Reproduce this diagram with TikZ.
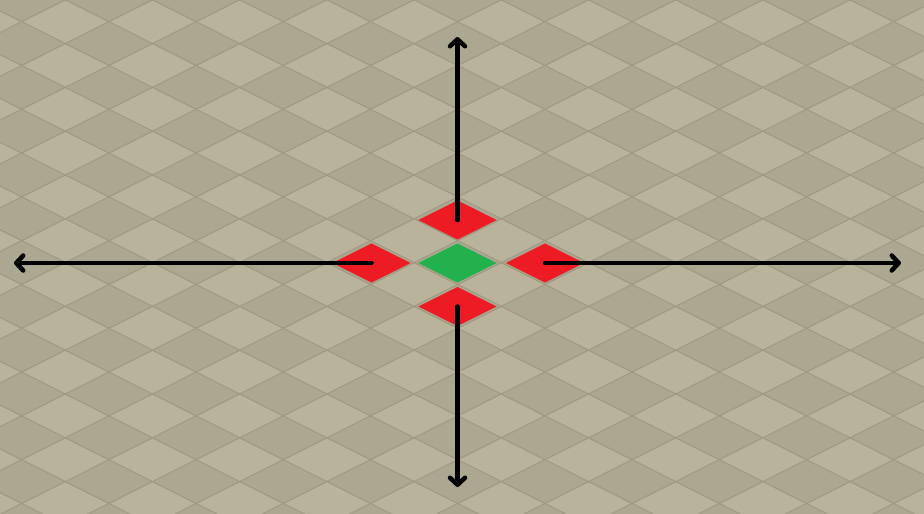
\documentclass[tikz,border=0pt]{standalone}
\usetikzlibrary{arrows.meta,shapes.geometric}

\definecolor{floorlight}{RGB}{185,179,155}
\definecolor{floordark}{RGB}{172,167,144}
\definecolor{grout}{RGB}{158,153,128}
\definecolor{tilered}{RGB}{237,28,36}
\definecolor{tilegreen}{RGB}{34,177,76}

\tikzset{
  tile/.style={diamond, draw=none, inner sep=0pt, minimum width=78.4pt, minimum height=39.4pt},
  move/.style={line width=4.5pt, line cap=round, -{Straight Barb[length=7pt,width=15pt,round]}}
}

\begin{document}
\begin{tikzpicture}[x=1pt,y=-1pt]
\useasboundingbox (0,0) rectangle (924,514);

% floor
\begin{scope}
\clip (0,0) rectangle (924,514);
\fill[floorlight] (0,0) rectangle (924,514);
\foreach \n in {-1,...,23}{
  \pgfmathtruncatemacro{\shift}{mod(\n+3,2)}
  \foreach \i in {-1,...,11}{
    \pgfmathsetmacro{\cx}{21.7+43.6*(2*\i+\shift)}
    \pgfmathsetmacro{\cy}{21.7+21.9*\n}
    \ifodd\n
      \filldraw[fill=floordark, draw=grout, line width=0.8pt] (\cx-43.6,\cy) -- (\cx,\cy-21.9) -- (\cx+43.6,\cy) -- (\cx,\cy+21.9) -- cycle;
    \else
      \draw[grout, line width=0.8pt] (\cx-43.6,\cy) -- (\cx,\cy-21.9) -- (\cx+43.6,\cy) -- (\cx,\cy+21.9) -- cycle;
    \fi
  }
}
\end{scope}

% tiles
\node[tile, fill=tilegreen] (home) at (457.5,263) {};
\node[tile, fill=tilered] (north) at (457.5,220) {};
\node[tile, fill=tilered] (south) at (457.5,306.5) {};
\node[tile, fill=tilered] (west) at (371.5,263) {};
\node[tile, fill=tilered] (east) at (545,263) {};

% free ends
\coordinate (northend) at (457.5,37);
\coordinate (southend) at (457.5,487);
\coordinate (westend) at (14,263);
\coordinate (eastend) at (901,263);

% arrows
\draw[move] (north.center) -- (northend);
\draw[move] (south.center) -- (southend);
\draw[move] (west.center) -- (westend);
\draw[move] (east.center) -- (eastend);
\end{tikzpicture}
\end{document}
